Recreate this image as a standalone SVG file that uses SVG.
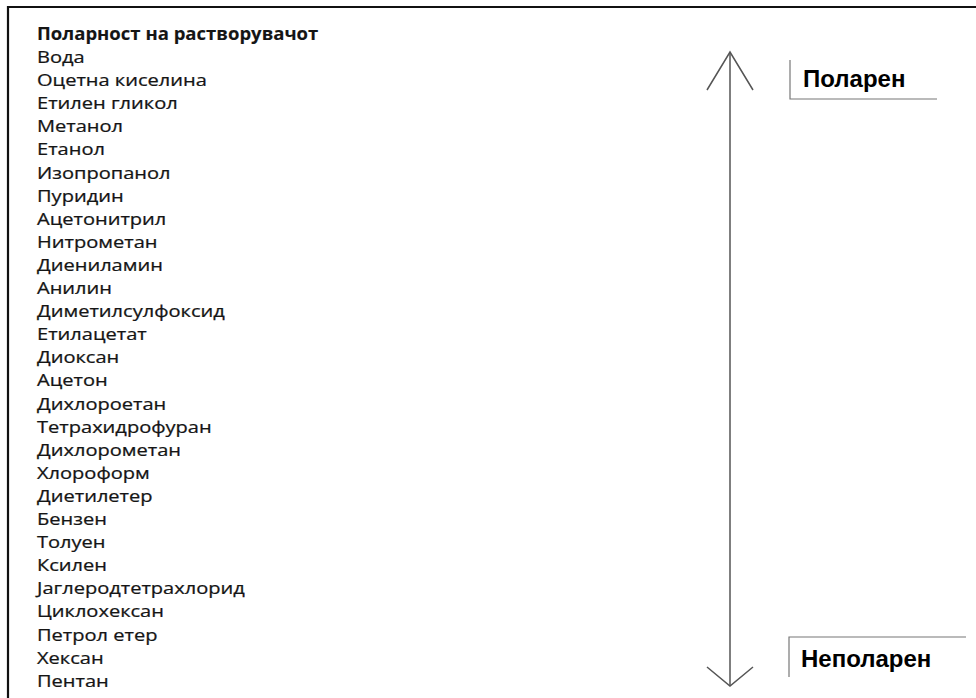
<svg xmlns="http://www.w3.org/2000/svg" width="976" height="698" viewBox="0 0 976 698">
<style>
.t{font-family:"Open Sans","Noto Sans","DejaVu Sans",sans-serif;font-size:17px;fill:#151515;stroke:#151515;stroke-width:0.25}
.b{font-weight:bold;stroke-width:0.1}
.lbl{font-family:"Liberation Sans",Arial,sans-serif;font-size:24px;font-weight:bold;fill:#000}
.ln{stroke:#555;stroke-width:1.5;fill:none}
.bx{stroke:#777;stroke-width:1.2;fill:none}
</style>
<rect x="0" y="0" width="976" height="698" fill="#fff"/>
<path d="M8,698 V7 H976" fill="none" stroke="#111" stroke-width="2.2"/>
<g id="title" transform="translate(37,0) scale(1.09,1)">
<text class="t b" x="0" y="40">Поларност на растворувачот</text>
</g>
<g id="list" transform="translate(37,0) scale(1.18,1)">
<text class="t" x="0" y="63.1">Вода</text>
<text class="t" x="0" y="86.2">Оцетна киселина</text>
<text class="t" x="0" y="109.3">Етилен гликол</text>
<text class="t" x="0" y="132.4">Метанол</text>
<text class="t" x="0" y="155.5">Етанол</text>
<text class="t" x="0" y="178.6">Изопропанол</text>
<text class="t" x="0" y="201.7">Пуридин</text>
<text class="t" x="0" y="224.8">Ацетонитрил</text>
<text class="t" x="0" y="247.9">Нитрометан</text>
<text class="t" x="0" y="271">Диениламин</text>
<text class="t" x="0" y="294.1">Анилин</text>
<text class="t" x="0" y="317.2">Диметилсулфоксид</text>
<text class="t" x="0" y="340.3">Етилацетат</text>
<text class="t" x="0" y="363.4">Диоксан</text>
<text class="t" x="0" y="386.5">Ацетон</text>
<text class="t" x="0" y="409.6">Дихлороетан</text>
<text class="t" x="0" y="432.7">Тетрахидрофуран</text>
<text class="t" x="0" y="455.8">Дихлорометан</text>
<text class="t" x="0" y="478.9">Хлороформ</text>
<text class="t" x="0" y="502">Диетилетер</text>
<text class="t" x="0" y="525.1">Бензен</text>
<text class="t" x="0" y="548.2">Толуен</text>
<text class="t" x="0" y="571.3">Ксилен</text>
<text class="t" x="0" y="594.4">Јаглеродтетрахлорид</text>
<text class="t" x="0" y="617.5">Циклохексан</text>
<text class="t" x="0" y="640.6">Петрол етер</text>
<text class="t" x="0" y="663.7">Хексан</text>
<text class="t" x="0" y="686.8">Пентан</text>
</g>
<g id="connectors">
<path class="ln" d="M730,52 V686"/>
<path class="ln" d="M707,90 L730,52 L753,90"/>
<path class="ln" d="M707,667 L730,686 L753,667"/>
</g>
<g id="polar">
<path class="bx" d="M790,60 V99 H937"/>
<text class="lbl" x="803" y="87">Поларен</text>
</g>
<g id="nonpolar">
<path class="bx" d="M789,677 V637 H966"/>
<text class="lbl" x="801" y="667">Неполарен</text>
</g>
</svg>
